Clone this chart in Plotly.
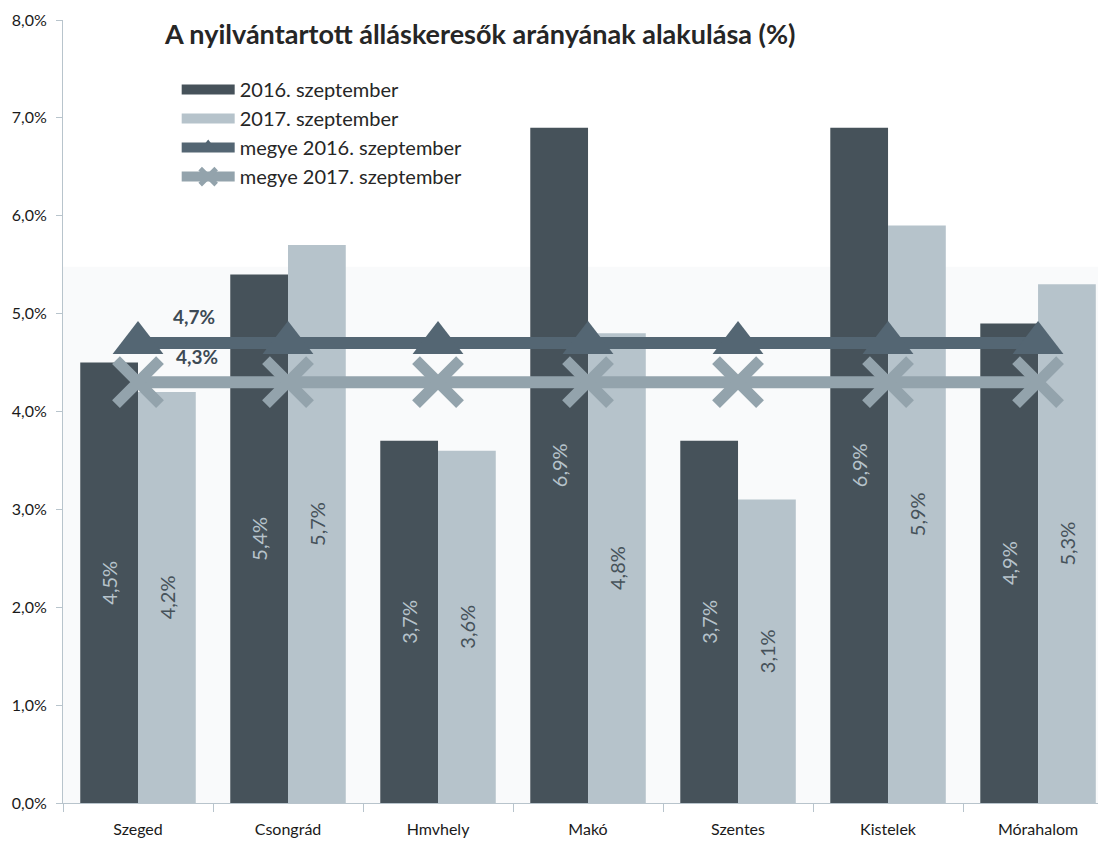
import plotly.graph_objects as go

categories = ["Szeged", "Csongrád", "Hmvhely", "Makó", "Szentes", "Kistelek", "Mórahalom"]
sept_2016 = [4.5, 5.4, 3.7, 6.9, 3.7, 6.9, 4.9]
sept_2017 = [4.2, 5.7, 3.6, 4.8, 3.1, 5.9, 5.3]
county_2016 = 4.7
county_2017 = 4.3
y_ticks = [0, 1, 2, 3, 4, 5, 6, 7, 8]
y_tick_labels = ["0,0%", "1,0%", "2,0%", "3,0%", "4,0%", "5,0%", "6,0%", "7,0%", "8,0%"]

DARK = "#46525a"
LIGHT = "#b6c3cb"
LINE16 = "#546673"
LINE17 = "#93a3ac"
AXIS = "#b8c4cc"
FONT = "Lato"

def fmt(v):
    return f"{v:.1f}".replace(".", ",") + "%"

fig = go.Figure()
fig.add_trace(go.Bar(
    x=categories, y=sept_2016, name="2016. szeptember", showlegend=False,
    marker=dict(color=DARK, line=dict(width=0)),
    text=[fmt(v) for v in sept_2016], textposition="inside",
    insidetextanchor="middle", textangle=-90,
    textfont=dict(color=LIGHT, size=20, family=FONT),
))
fig.add_trace(go.Bar(
    x=categories, y=sept_2017, name="2017. szeptember", showlegend=False,
    marker=dict(color=LIGHT, line=dict(width=0)),
    text=[fmt(v) for v in sept_2017], textposition="inside",
    insidetextanchor="middle", textangle=-90,
    textfont=dict(color=DARK, size=20, family=FONT),
))
# legend swatches for the bar series (wide rectangles as in the reference)
fig.add_trace(go.Scatter(x=[None], y=[None], mode="lines", name="2016. szeptember",
                         line=dict(color=DARK, width=12)))
fig.add_trace(go.Scatter(x=[None], y=[None], mode="lines", name="2017. szeptember",
                         line=dict(color=LIGHT, width=12)))
fig.add_trace(go.Scatter(
    x=categories, y=[county_2016] * len(categories), name="megye 2016. szeptember",
    mode="lines+markers",
    line=dict(color=LINE16, width=12),
    marker=dict(symbol="triangle-up", size=44, color=LINE16),
))
fig.add_trace(go.Scatter(
    x=categories, y=[county_2017] * len(categories), name="megye 2017. szeptember",
    mode="lines+markers",
    line=dict(color=LINE17, width=12),
    marker=dict(symbol="x-thin", size=44, color=LINE17, line=dict(color=LINE17, width=11)),
))

fig.add_annotation(x=categories[0], y=county_2016, text="<b>" + fmt(county_2016) + "</b>",
                   showarrow=False, xshift=56, yshift=26,
                   font=dict(size=19, color="#3d4a55", family=FONT))
fig.add_annotation(x=categories[0], y=county_2017, text="<b>" + fmt(county_2017) + "</b>",
                   showarrow=False, xshift=59, yshift=26,
                   font=dict(size=19, color="#3d4a55", family=FONT))

fig.add_shape(type="rect", xref="paper", yref="paper", x0=0, x1=1, y0=0, y1=0.685,
              fillcolor="#f9fafb", line=dict(width=0), layer="below")

# the page body adds an 8px margin, so the figure is drawn 8px smaller/offset
fig.update_layout(
    width=1098, height=836,
    margin=dict(l=55, r=0, t=12, b=41, autoexpand=False),
    paper_bgcolor="white", plot_bgcolor="white",
    barmode="group", bargap=0.23, bargroupgap=0,
    font=dict(family=FONT, color="#333333"),
    title=dict(text="<b>A nyilvántartott álláskeresők arányának alakulása (%)</b>",
               x=0.4, xref="paper", xanchor="center", y=1 - 27 / 836, yanchor="middle",
               font=dict(size=27, color="#262626", family=FONT)),
    legend=dict(x=0.109, y=0.936, xanchor="left", yanchor="top",
                bgcolor="rgba(0,0,0,0)", font=dict(size=20, color="#262626", family=FONT),
                tracegroupgap=0, itemwidth=53),
    showlegend=True,
    xaxis=dict(range=[-0.5, 6.453], showline=True, linecolor=AXIS, linewidth=1,
               ticks="outside", ticklen=8, tickcolor=AXIS, tickson="boundaries",
               tickfont=dict(size=16, color="#1a1a1a", family=FONT), showgrid=False,
               ticklabelstandoff=12, automargin=False, fixedrange=True),
    yaxis=dict(range=[0, 8], tickvals=y_ticks, ticktext=y_tick_labels,
               showline=True, linecolor=AXIS, linewidth=1, ticks="outside", ticklen=6,
               tickcolor=AXIS, showgrid=False, zeroline=False, automargin=False,
               ticklabelstandoff=6,
               tickfont=dict(size=16, color="#1a1a1a", family=FONT)),
)

fig.write_html("out.html")
